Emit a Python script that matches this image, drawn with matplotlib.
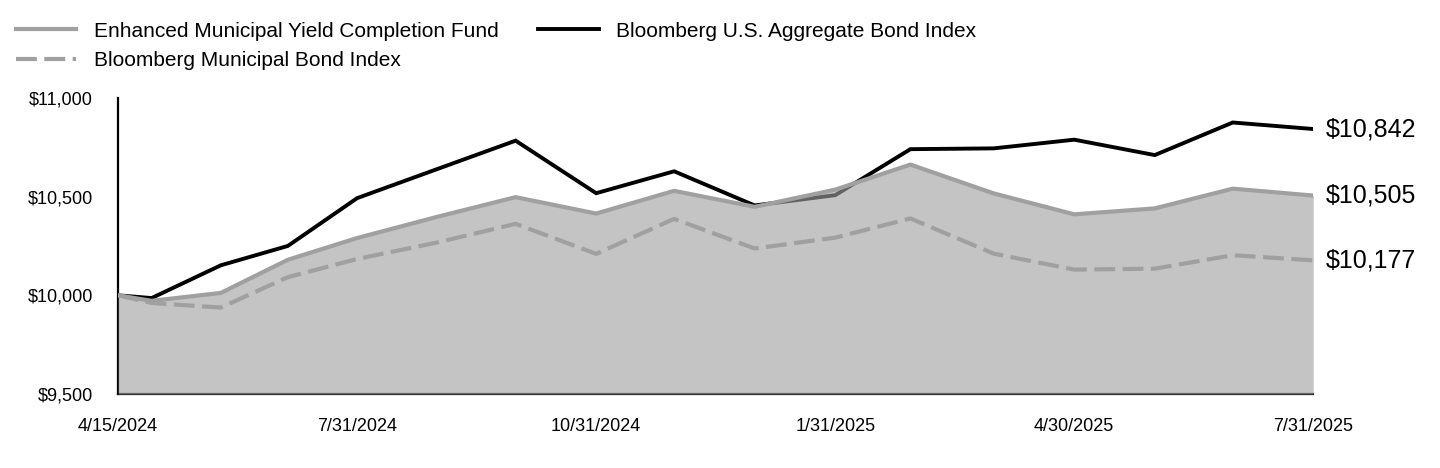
import numpy as np
import matplotlib.pyplot as plt

dates = np.array(["2024-04-15", "2024-04-30", "2024-05-31", "2024-06-30", "2024-07-31",
                  "2024-08-31", "2024-09-30", "2024-10-31", "2024-11-30", "2024-12-31",
                  "2025-01-31", "2025-02-28", "2025-03-31", "2025-04-30", "2025-05-31",
                  "2025-06-30", "2025-07-31"], dtype="datetime64[D]")
fund = [10000, 9972, 10012, 10180, 10290, 10398, 10497, 10414, 10529, 10448,
        10535, 10662, 10516, 10410, 10440, 10540, 10505]
agg = [10000, 9986, 10152, 10250, 10492, 10640, 10783, 10517, 10628, 10455,
       10507, 10740, 10744, 10788, 10710, 10875, 10842]
muni = [10000, 9961, 9938, 10092, 10184, 10268, 10362, 10210, 10387, 10237,
        10292, 10389, 10211, 10130, 10135, 10203, 10177]

tick_dates = np.array(["2024-04-15", "2024-07-31", "2024-10-31", "2025-01-31",
                       "2025-04-30", "2025-07-31"], dtype="datetime64[D]")
tick_labels = ["4/15/2024", "7/31/2024", "10/31/2024", "1/31/2025", "4/30/2025", "7/31/2025"]

# the axis spaces its labels evenly, dates are placed linearly between them
x = np.interp(dates.astype(int), tick_dates.astype(int), np.arange(len(tick_dates)))

plt.rcParams["font.family"] = ["Liberation Sans", "DejaVu Sans"]
fig = plt.figure(figsize=(14.4, 4.68), dpi=100)
ax = fig.add_axes([0.082, 0.158, 0.830, 0.633])

GRAY = "#a0a0a0"
ax.plot(x, agg, color="black", lw=2.8, zorder=2, solid_joinstyle="miter",
        label="Bloomberg U.S. Aggregate Bond Index")
ax.fill_between(x, fund, 9500, color=GRAY, alpha=0.62, lw=0, zorder=3)
ax.plot(x, fund, color=GRAY, lw=3, zorder=4, label="Enhanced Municipal Yield Completion Fund")
ax.plot(x, muni, color=GRAY, lw=3, zorder=4, dashes=(5, 1.8),
        label="Bloomberg Municipal Bond Index")

ax.set_xlim(0, len(tick_dates) - 1)
ax.set_ylim(9500, 11000)
ax.set_xticks(np.arange(len(tick_dates)))
ax.set_xticklabels(tick_labels)
yt = [9500, 10000, 10500, 11000]
ax.set_yticks(yt)
ax.set_yticklabels([f"${v:,}" for v in yt])
ax.tick_params(length=0, labelsize=13)
ax.tick_params(axis="y", pad=18)
ax.tick_params(axis="x", pad=17)
for s in ["top", "right"]:
    ax.spines[s].set_visible(False)
ax.spines["left"].set_linewidth(1.6)
ax.spines["bottom"].set_linewidth(1.6)
ax.spines["left"].set_zorder(2.5)

for v in [agg[-1], fund[-1], muni[-1]]:
    ax.annotate(f"${v:,}", xy=(x[-1], v), xytext=(9, 0), textcoords="offset points",
                va="center", ha="left", fontsize=18, annotation_clip=False)

h, l = ax.get_legend_handles_labels()
order = [1, 2, 0]
fig.legend([h[i] for i in order], [l[i] for i in order], ncol=2, frameon=False,
           loc="upper left", bbox_to_anchor=(-0.002, 0.994), fontsize=15,
           handlelength=2.9, handletextpad=0.85, columnspacing=1.9, labelspacing=0.5)

fig.savefig("out.png", dpi=100)
